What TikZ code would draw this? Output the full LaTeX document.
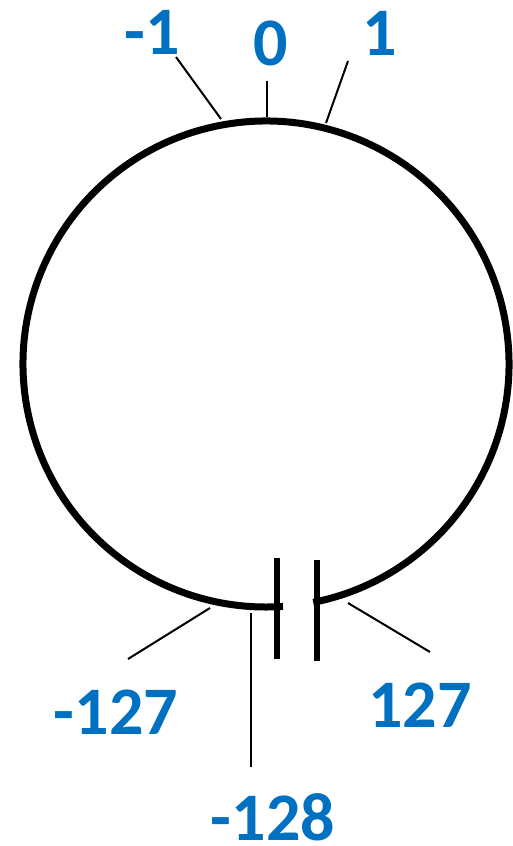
\documentclass[tikz,border=0pt]{standalone}
\usepackage{fontspec}
\setmainfont{Carlito}
\definecolor{valblue}{HTML}{0070C0}
\tikzset{
  ring/.style={line width=7pt},
  gapbar/.style={line width=6pt},
  tick/.style={line width=2pt},
  val/.style={font=\fontsize{68}{68}\selectfont\bfseries,text=valblue,inner sep=0pt},
}

\begin{document}
\begin{tikzpicture}[x=1pt,y=1pt]
\useasboundingbox (0,0) rectangle (512,-846);
% The wheel with its gap at the bottom
\coordinate (c) at (266,-364);
\draw[ring] (c) ++(281.2:243) arc (281.2:634:243);
% Gap bars
\draw[gapbar] (277,-558) -- (277,-659);
\draw[gapbar] (317,-560) -- (317,-661);
% Values
\node[val] (vm1) at (152,-32) {-1};
\node[val] (v0) at (271,-43) {0};
\node[val] (v1) at (380,-33) {1};
\node[val] (vm127) at (116,-712) {-127};
\node[val] (vm128) at (273,-817) {-128};
\node[val] (v127) at (420,-705) {127};
% Tick ends
\coordinate (tm1a) at (176,-57);  \coordinate (tm1b) at (221,-119);
\coordinate (t0a) at (267,-81);   \coordinate (t0b) at (267,-117);
\coordinate (t1a) at (348,-61);   \coordinate (t1b) at (326,-123);
\coordinate (tm127a) at (128,-659); \coordinate (tm127b) at (210,-608);
\coordinate (tm128a) at (251,-767); \coordinate (tm128b) at (251,-613);
\coordinate (t127a) at (430,-652); \coordinate (t127b) at (348,-603);
% Ticks
\draw[tick] (tm1a) -- (tm1b);
\draw[tick] (t0a) -- (t0b);
\draw[tick] (t1a) -- (t1b);
\draw[tick] (tm127a) -- (tm127b);
\draw[tick] (tm128a) -- (tm128b);
\draw[tick] (t127a) -- (t127b);
\end{tikzpicture}
\end{document}
